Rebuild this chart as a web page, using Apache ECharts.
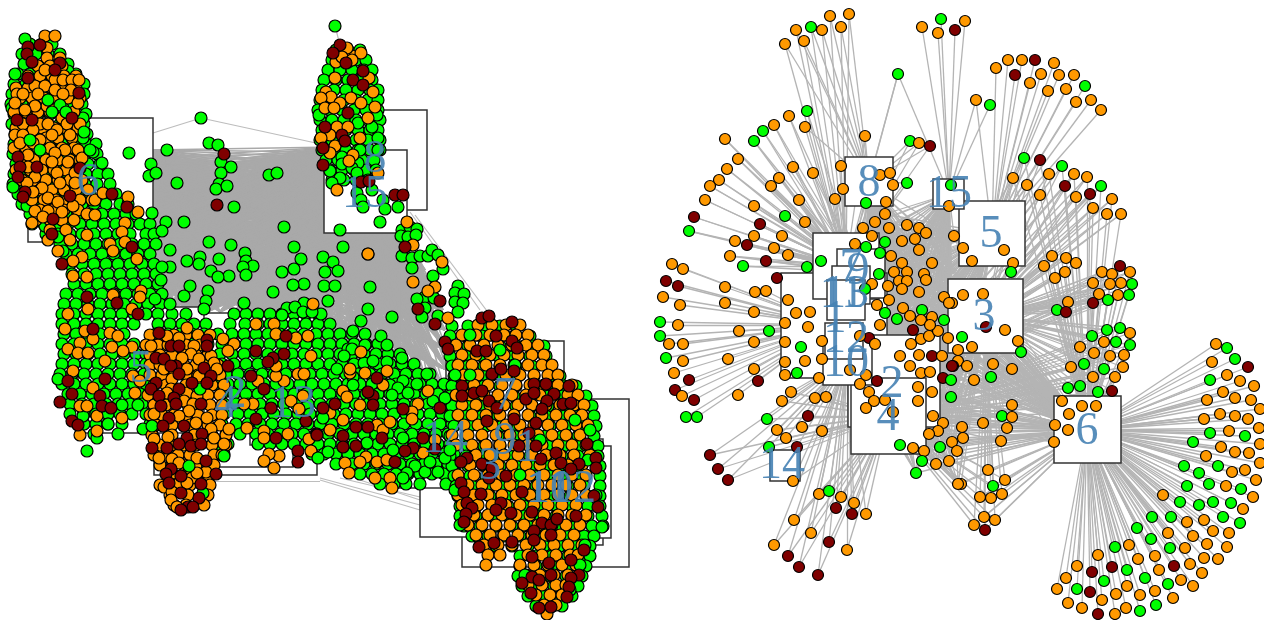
<!DOCTYPE html>
<html><head><meta charset="utf-8">
<script src="https://cdn.jsdelivr.net/npm/echarts@6/dist/echarts.min.js"></script>
<style>html,body{margin:0;padding:0;background:#fff}#c{width:1264px;height:620px}</style>
</head><body><div id="c"></div><script>
const O=0,G=1,M=2;
const leftBoxes=[[462,399,629,567],[154,313,317,475],[420,477,510,537],[159,338,293,467],[78,307,204,433],[28,118,153,242],[446,341,564,458],[327,110,427,210],[497,439,603,545],[519,446,611,538],[250,365,333,445],[397,392,493,488],[324,150,407,233]];
const leftLabels=[["6",88,183],["8",375,160],["15",365,195],["5",141,370],["4",226,405],["2",235,395],["13",293,405],["14",445,440],["7",505,397],["9",505,442],["1",527,449],["3",490,467],["11",548,490],["10",550,490],["12",573,490]];
const rightBoxes=[[781,273,887,378],[848,335,940,427],[948,279,1023,353],[851,378,926,454],[959,201,1025,266],[1054,396,1121,463],[813,233,879,299],[845,157,893,206],[837,249,885,298],[823,336,872,385],[832,266,870,304],[825,323,863,359],[827,280,865,320],[770,450,800,481],[933,179,964,209]];
const rightLabels=[["1",835,320],["2",892,385],["3",984,318],["4",888,418],["5",991,235],["6",1087,432],["7",851,268],["8",869,184],["9",858,272],["10",846,364],["11",842,295],["12",846,340],["13",846,295],["14",782,466],["15",949,195]];
const hub={h1:[833,325],h2:[894,381],h3:[986,316],h4:[888,416],h5:[992,234],h6:[1087,430],h7:[846,266],h8:[869,182],h9:[861,273],h10:[847,360],h15:[949,194]};

const fan8=[[785,44,O],[796,30,O],[804,41,O],[811,27,G],[822,30,O],[830,16,O],[841,27,O],[849,14,O],[865,136,O],[805,127,O],[898,74,G],[910,141,G],[919,143,O],[930,146,M],[841,166,O],[843,189,O],[835,199,O],[866,203,G],[886,202,O],[893,185,O],[880,175,O],[890,173,O],[907,183,G]];
const fan7=[[807,111,G],[789,116,O],[774,125,O],[763,131,G],[754,141,G],[725,139,O],[738,159,O],[727,169,O],[719,180,O],[710,186,O],[705,200,O],[694,217,M],[689,231,G],[793,167,O],[813,173,O],[779,178,O],[771,186,O],[799,200,O],[754,206,O],[785,216,G],[760,224,M],[805,222,O],[754,236,O],[735,241,O],[747,245,M],[782,236,O],[774,248,O],[788,255,O],[730,256,O],[766,261,M],[743,266,G],[807,267,G],[777,278,M],[821,261,G]];
const fan1=[[672,264,O],[683,269,O],[666,281,M],[678,286,M],[663,297,O],[680,305,O],[725,287,O],[725,303,O],[755,292,O],[766,291,O],[788,300,O],[660,322,G],[678,325,O],[660,336,G],[669,344,O],[683,344,O],[666,358,G],[683,361,O],[674,373,O],[689,380,M],[675,390,M],[682,396,O],[694,400,M],[686,417,G],[697,417,G],[739,331,O],[769,331,G],[754,342,O],[728,359,O],[754,369,O],[758,381,M],[738,395,O],[785,323,O],[785,342,O],[801,347,G],[785,362,O],[805,361,O],[785,375,O],[797,373,G],[808,327,O],[822,341,O],[822,359,O],[819,378,O],[796,313,O],[810,312,O],[754,312,O]];
const fan4=[[791,392,O],[782,401,O],[815,398,O],[826,397,O],[808,416,M],[802,427,O],[767,419,G],[777,430,O],[786,438,O],[822,431,O],[769,447,G],[797,447,M],[793,481,O],[710,455,M],[718,469,M],[728,480,M],[819,494,O],[829,491,G],[841,497,O],[854,503,O],[836,508,M],[852,514,M],[866,514,O],[794,520,O],[811,533,O],[829,542,M],[847,550,O],[774,545,O],[788,556,M],[799,567,M],[818,575,M]];
const fan15=[[922,27,O],[941,19,G],[938,33,O],[955,30,M],[965,21,O],[951,185,G],[949,206,O],[976,100,O],[990,105,G]];
const fan5=[[996,68,O],[1008,60,O],[1022,60,O],[1035,60,M],[1015,75,M],[1054,63,O],[1041,74,O],[1030,83,O],[1059,75,O],[1074,75,O],[1048,91,O],[1066,89,O],[1085,86,G],[1076,102,O],[1091,100,O],[1101,110,O],[963,248,O],[1004,250,O],[972,261,O],[1013,263,O],[1011,272,G]];
const fan3=[[1024,158,G],[1040,160,M],[1062,166,G],[1013,178,O],[1027,185,O],[1049,174,O],[1074,174,O],[1087,177,O],[1065,186,M],[1101,186,G],[1090,194,M],[1076,197,O],[1040,195,O],[1112,199,O],[1093,208,O],[1107,214,O],[1121,214,O],[1052,256,O],[1066,258,O],[1076,263,O],[1044,266,O],[1065,272,O],[1055,278,O],[1102,272,O],[1112,274,O],[1120,266,M],[1130,272,O],[1093,283,O],[1110,284,O],[1121,283,O],[1132,284,G],[1099,294,O],[1118,295,O],[1129,295,G],[1108,300,G],[1093,303,M],[1068,302,O],[1057,310,G],[1066,312,M],[963,295,O],[983,294,O],[952,303,O],[1005,330,O],[1018,341,O],[1021,352,G],[986,327,M],[962,337,G],[972,347,O],[958,350,O]];
const fan6up=[[1092,336,G],[1107,330,G],[1120,328,G],[1130,333,O],[1104,342,O],[1116,342,G],[1130,345,G],[1080,347,O],[1094,353,O],[1110,356,O],[1124,355,O],[1084,364,G],[1071,367,O],[1104,369,G],[1123,367,O],[1093,377,O],[1115,377,O],[1068,388,G],[1080,386,G],[1098,392,G],[1112,391,M],[958,361,O],[967,366,O],[953,366,M],[993,364,O],[1012,369,O],[991,377,G],[974,380,O],[1012,405,O],[1002,416,G],[1012,417,O],[983,423,O],[1007,428,O],[962,427,O],[1001,441,O],[963,438,O],[988,470,O],[961,484,O],[1005,480,O],[993,486,G],[1002,494,O],[980,497,O],[991,498,O],[984,517,O],[995,520,O],[974,525,O],[985,530,M],[1062,401,O],[1082,406,O],[1096,406,O],[1069,414,O],[1055,425,O],[1068,430,O],[1054,442,O]];
const fan6=[[1216,344,O],[1227,348,G],[1235,359,G],[1248,367,M],[1212,362,O],[1227,375,O],[1210,380,G],[1240,381,O],[1254,386,O],[1223,392,O],[1207,400,O],[1235,398,O],[1251,400,O],[1260,409,O],[1204,419,O],[1220,414,O],[1235,416,O],[1248,419,O],[1259,428,O],[1210,433,G],[1229,431,O],[1245,436,G],[1193,442,G],[1221,447,O],[1235,452,O],[1249,453,O],[1260,444,O],[1260,463,O],[1206,456,O],[1184,466,G],[1218,466,G],[1199,473,G],[1232,472,O],[1245,470,O],[1256,480,O],[1187,486,G],[1209,484,G],[1226,486,O],[1241,489,G],[1253,497,O],[1163,495,O],[1180,502,G],[1199,505,G],[1213,502,G],[1231,503,G],[1243,509,O],[1152,517,G],[1171,517,G],[1187,522,O],[1204,520,O],[1223,517,G],[1240,523,G],[1137,528,G],[1168,533,O],[1193,536,O],[1213,531,O],[1229,533,O],[1151,539,G],[1207,544,O],[1227,547,O],[1170,548,G],[1185,548,O],[1115,547,G],[1129,545,O],[1155,556,O],[1204,558,O],[1218,559,O],[1098,555,O],[1138,559,O],[1174,566,M],[1190,564,O],[1077,566,O],[1092,572,M],[1112,567,M],[1127,570,G],[1159,570,O],[1202,573,O],[1066,578,O],[1104,581,G],[1145,578,G],[1181,580,O],[1168,584,G],[1193,586,O],[1127,586,O],[1057,589,O],[1077,589,G],[1090,592,M],[1116,594,O],[1140,595,O],[1155,591,O],[1173,598,O],[1068,603,O],[1102,600,O],[1082,608,O],[1126,608,O],[1156,605,G],[1098,614,M],[1115,614,O],[1140,611,G]];
const middle=[[885,214,O],[875,222,O],[889,228,O],[863,228,O],[872,236,O],[855,244,O],[866,247,G],[885,242,G],[880,253,G],[891,256,O],[907,225,O],[919,228,O],[926,233,O],[915,239,O],[902,241,O],[919,250,O],[954,236,O],[902,263,O],[932,263,O],[894,272,O],[907,272,O],[924,274,O],[879,274,G],[926,280,O],[899,281,O],[907,281,O],[888,286,O],[872,284,O],[902,289,O],[919,292,O],[944,297,O],[949,303,O],[889,300,O],[877,305,O],[903,308,O],[922,310,G],[865,289,G],[885,313,G],[897,319,G],[913,330,M],[880,325,O],[869,338,M],[875,344,O],[860,336,O],[911,344,O],[921,339,O],[929,336,O],[938,331,O],[948,338,O],[944,320,G],[932,317,O],[921,320,O],[930,325,O],[910,316,O],[900,356,O],[919,355,O],[932,356,M],[942,356,O],[952,366,M],[910,366,O],[921,373,O],[930,372,O],[943,378,M],[951,380,G],[951,397,G],[877,381,M],[860,384,O],[869,392,O],[874,401,O],[885,400,O],[866,408,O],[893,412,O],[918,387,O],[932,392,O],[918,401,O],[933,416,O],[943,423,O],[938,431,O],[929,434,O],[900,445,G],[913,448,O],[924,451,O],[940,447,G],[952,442,O],[957,451,O],[949,461,O],[936,464,O],[922,461,G],[916,473,G],[958,484,O],[850,370,O],[866,375,O]];

const topLeftEnds=[[150,150],[146,158],[140,165],[130,172],[120,180],[110,186],[105,192],[100,198],[95,205],[100,212],[105,218],[110,225],[120,230],[130,235],[145,238]];
const topRightEnds=[[335,147],[333,152],[340,158],[330,165],[345,170],[330,175],[340,183],[335,190],[345,197],[335,205],[345,212],[335,220],[345,228],[360,230],[380,232],[400,226]];
const bottomEnds=[[100,292],[120,300],[140,305],[160,312],[175,313],[190,312],[205,313],[220,312],[235,312],[250,313],[265,312],[280,330],[295,335],[310,345],[325,355],[340,362],[355,372],[370,378],[385,385],[400,390],[415,392],[430,392],[445,392],[447,370],[447,350],[445,330],[443,310],[435,290],[425,270],[415,250]];
const leftExtraEdges=[[153,133,201,118],[201,118,325,145],[215,481,320,481],[320,480,420,510],[320,478,420,505],[360,480,420,500],[340,478,420,497],[410,212,480,310],[415,215,490,315],[335,26,340,45]];

const leftGreenRows=[
[44,30,42,52],[54,22,36,48,60],[64,24,34,46,58,68],[74,18,30,42,54,66,76],[84,14,26,38,50,62,74,84],[94,12,24,36,48,60,72,84],[104,11,22,34,46,58,70,82],[114,14,26,38,50,62,74,86],[124,12,24,36,48,60,72,84],[134,15,27,39,51,63,75,87],[144,14,26,38,50,62,74,86,96],[154,13,25,37,49,61,73,85,97],[164,16,28,40,52,64,76,88,100],[174,14,26,38,50,62,74,86,98,108],[184,13,25,37,49,61,73,85,97,110],[194,18,30,42,54,66,78,90,104,116],[204,22,34,46,58,70,82,94,106,120,128],[214,30,42,54,66,78,90,102,114,126,136],[224,32,44,56,68,80,92,104,116,128,140,150],[234,46,58,70,82,94,106,118,130,146,154],[244,60,72,84,96,108,120,132,144,156],[254,66,78,90,102,114,126,138,150],[264,70,82,94,106,118,130,142,154],[274,72,84,96,108,120,132,144,156],[284,74,86,98,110,122,134,146,158],[294,66,78,90,102,114,126,138,150,162],[304,64,76,88,100,112,124,136,148,160],
[314,62,74,86,98,110,122,134,146,158,172,186,234,246,258,270,282,294,306,318],
[324,62,74,86,98,110,122,134,158,170,182,194,206,230,245,258,270,282,294,306,318,330],
[334,64,76,88,100,112,124,156,168,180,192,204,218,232,244,256,268,280,292,304,316,328,340,352],
[344,62,74,86,98,110,122,134,150,170,190,208,222,234,246,258,270,282,294,306,318,330,342,354,366,378],
[354,64,76,88,100,112,124,136,146,208,220,232,244,256,268,280,292,304,316,328,340,352,364,376,388,400],
[364,62,74,86,98,110,122,134,146,210,222,234,246,258,270,282,294,306,318,330,342,354,366,378,390,402,414],
[374,60,72,84,96,108,120,132,144,214,226,238,250,262,274,286,298,310,322,334,346,358,370,382,394,406,418,430],
[384,62,74,86,98,110,122,134,146,216,228,240,252,264,276,288,300,312,324,336,348,360,372,384,396,408,420,432,444],
[394,68,80,92,104,116,128,140,222,234,246,258,270,282,294,306,318,330,342,354,366,378,390,402,414,426,438,450],
[404,70,82,94,106,118,130,142,224,236,248,260,272,284,296,308,320,332,344,356,368,380,392,404,416,428,440,452],
[414,70,84,96,108,120,132,146,224,238,250,262,274,286,298,310,322,334,346,358,370,382,394,406,418,430,442,454],
[424,84,96,108,122,150,222,236,248,260,272,284,296,308,320,332,344,356,368,380,392,404,416,428,440,452],
[434,94,118,152,226,240,256,268,280,292,304,316,328,340,352,364,376,388,400,412,424,436,448],
[444,218,228,258,270,282,294,306,318,330,342,354,366,378,390,402,414,426,438,450],
[454,224,312,324,336,348,360,372,384,396,408,420,432,444,454],
[464,336,352,364,376,388,400,412,424,436,448,456],
[474,360,372,384,396,408,420,432,444,456],[484,380,394,406,420,446,458],
[494,458],
[50,336,348,360],[60,332,344,356,366],[70,328,340,352,364,372],[80,324,336,348,360,372],[90,322,334,346,358,370,378],[100,320,332,344,356,368,378],[110,318,330,342,354,366,378],[120,320,332,344,356,368,380],[130,322,334,346,358,370,378],[140,320,332,344,356,368,380],[150,322,334,346,358,370,380],[160,326,338,350,362,374],[170,330,342,354,366,376],[180,332,344,356,368],
[326,452,468,484,500,516],[336,450,466,482,498,514,530],[346,452,468,484,500,516,532,544],[356,450,466,482,498,514,530,546],[366,452,468,484,500,516,532,550],[376,454,470,486,502,518,534,550,560],[386,452,468,484,500,516,532,548,564,576],[396,450,466,482,498,514,530,546,562,578,586],[406,452,468,484,500,516,532,548,564,580,592],[416,450,466,482,498,514,530,546,562,578,594],[426,454,470,486,502,518,534,550,566,582,596],[436,450,466,482,498,514,530,546,562,578,594],[446,452,468,484,500,516,532,548,564,580,598],[456,450,466,482,498,514,530,546,562,578,598],[466,452,468,484,500,516,532,548,564,580,600],[476,454,470,486,502,518,534,550,566,582,600],[486,456,472,488,504,520,536,552,568,584,600],[496,458,474,490,506,522,538,554,570,586,600],[506,460,476,492,508,524,540,556,572,588,600],[516,460,476,492,508,524,540,556,572,588,602],[526,464,480,496,512,528,544,560,576,592,603],[536,472,488,504,520,536,552,568,584,594],[546,480,496,512,528,544,560,576,590],[556,520,536,552,568,584,590],[566,520,536,552,568,586],[576,518,534,550,566,582],[586,522,538,554,570,578],[596,528,544,560,572],[606,536,552,562]
];
const leftGreen=[201,118,129,153,102,163,167,150,151,164,149,176,156,173,177,183,209,143,218,145,221,162,231,167,221,173,219,184,216,189,227,186,269,175,277,173,234,207,184,222,284,227,152,213,166,222,162,231,209,242,231,245,170,250,294,247,301,259,294,269,245,253,246,261,253,266,243,267,246,275,187,261,200,257,199,264,219,259,211,271,229,276,218,277,190,286,184,296,208,291,206,301,204,309,244,303,170,267,162,267,161,280,155,299,170,304,282,272,304,284,293,285,273,292,304,303,287,308,295,307,303,312,282,315,335,26,319,115,377,115,358,123,372,127,378,138,360,150,378,150,342,157,342,164,330,171,358,163,352,168,357,173,340,178,332,183,372,190,357,193,361,200,363,207,383,200,385,209,398,207,380,222,340,230,402,230,410,227,417,229,401,236,408,237,416,235,402,256,412,258,420,256,428,256,432,250,438,255,412,268,443,269,433,276,458,286,455,293,464,294,425,297,417,299,434,298,455,302,463,303,425,308,458,312,438,316,422,317,343,247,323,257,333,262,338,271,325,272,324,286,335,286,370,287,328,301,368,309,392,317,321,314,312,312,361,321,353,331,365,334,381,336,387,345,348,349,352,349,344,356,365,345,402,358,364,363,373,361,387,362,337,369,427,374,353,377,403,381,390,385,417,384,353,385,398,388,392,395,408,393,433,401,445,398,87,451,97,438,108,424,83,416,122,405,138,405,143,429,58,379,27,206,13,187,45,226,58,237,63,251,83,118,83,138,93,152,12,108,63,108,25,39,68,71,15,74];
const leftGreenTop=[189,466,224,456,152,426,200,389,203,493,403,438,323,418,328,452,318,458,393,450,367,443,415,466,425,472,438,472,407,473,403,478,430,462,445,458,588,460,590,430,596,495,602,527,585,545,580,565,570,590,525,575,460,525,455,490,520,475,540,440,575,420,450,450,470,335,500,350,515,365,470,375,455,375,60,105,66,112,52,112,48,100,90,150,40,150,30,140,84,132];
const leftOrangeRows=[
[36,45,55],[48,47],[58,47,60],[66,38,50,62],[76,28,40,52,64,76],[88,16,28,40,52,64,76],[98,20,32,44,56,68,80],[112,14,26,38,50,62,74],[128,16,28,42,54,66,78],[138,18,30,46,58,72],[148,14,26,38,50,62,74],[160,22,34,46,58,70,80],[170,16,30,42,54,66,78],[180,22,34,46,58,70,82],[190,28,40,52,64,76,88],[200,32,44,56,68,80,92],[210,40,52,64,78],[220,36,50,62,74],[230,50,66],
[70,45],[80,55,63,72,79],[86,35,45],[90,55,71],[94,17,23,38,63],[103,15,78],[106,47,35],[110,25,53],[118,62],[124,23,40,48,67,80],[130,33,57],[135,15,23,52,70],[140,40],[143,20,33],[150,65,78],[153,55],[155,28],[158,82],[162,52,68],[167,28],[173,57,75],[177,35],[183,27,60,75],[188,42],[192,33],[198,48],[202,58],[206,73],[211,35,48],[212,62],[217,43],[214,87],[215,95],[200,95],[193,103],[197,128],[212,138],[223,32,125],[232,122],[235,87],[240,70,48],[242,125],[244,110],[251,58,113],[257,82],[259,137],[261,73],[276,73],[277,87],[295,113],[291,141],[297,140],[309,88,132],[314,68],
[329,65],[331,85],[333,110],[336,118],[339,93],[343,80],[349,68],[353,78,88],[347,112,132],[351,123],[361,105],[371,73],[376,133],[381,140],[388,93],[406,80,87],[416,97],[418,122],[431,97],[435,80],[393,135],
[335,150,162,174,186,198,210],[345,146,158,168,186,200],[355,150,160,172,184,196,208],[365,150,160,184,196,208,218],[375,150,162,174,186,198,220],[385,154,166,186,198,212,224],[395,148,166,184,196,208,220],[405,154,166,188,196,210,222],[415,150,162,174,186,198,212,222],[425,156,172,190,208,220],[435,152,172,194,212,226],[445,160,172,184,196,212,226],[455,154,166,178,190,214,222],[465,160,172,184,196,214],[475,174,186,196,208],[485,160,174,190,210],[495,170,188,208],[505,174,186,204],
[336,167],[338,179],[328,187],[346,194,151],[354,191],[358,182],[359,199],[356,211],[363,214],[369,187,217,164],[376,199],[379,172],[389,171],[393,187,167],[396,197],[401,184],[404,193],[411,189],[414,154],[416,179],[418,207],[423,196],[429,211,229],[439,154],[438,214],[444,224],[458,159,197],[459,172],[463,179],[478,192],[483,179,187],[487,164],[492,172],[500,171],[507,177],[437,168],[472,206],[473,197],
[324,256,274],[334,276],[338,296],[336,308],[344,234],[339,223],[351,228],[381,258,284],[376,276],[366,276],[356,311],[374,298,304],[396,303],[401,291],[409,299],[404,253,244],[428,247],[431,264],[438,264],[434,288],[439,309],[451,311],[456,279],[454,269],[461,264],[468,274],
[304,313],[373,350],[352,361],[369,350],[373,365],[385,383],[371,387],[391,343],[391,428],[397,347],[405,360],[420,343],[430,330],[404,418],[412,412],[419,412],[413,330],[425,377],[430,383],[422,390],[440,435],[453,423],[457,366],[462,360],[463,345],[462,377],[460,387],[473,349],[478,375],[478,390],[488,392],
[254,368],[262,442],[282,413],[287,435],[291,428],[318,448],
[325,478,492,506,520],[335,462,476,490,504,516,528],[345,456,470,484,498,512,526,538],[355,462,476,490,504,518,532,544],[365,458,472,486,500,514,528,542,552],[375,464,478,492,506,520,534,548,558],[385,474,488,502,516,530,544,558,572],[395,456,470,484,498,512,526,540,554,568,578],[405,462,476,490,504,518,532,546,560,574,584],[415,458,472,486,500,514,528,542,556,570,582],[425,464,478,492,506,520,534,548,562,576,588],[435,452,468,482,496,510,524,538,552,566,580],[445,456,472,486,500,514,528,542,558,572,586],[455,476,490,504,518,532,546,560,574,590],[465,470,484,498,512,526,540,554,568,582],[475,458,474,488,502,516,530,544,558,572,586],[485,468,482,496,510,524,538,552,566,580],[495,458,474,488,502,516,530,544,558,572,586],[505,462,478,492,506,520,534,548,562,576],[515,474,488,502,516,530,544,558,572,586],[525,468,482,496,510,524,538,552,566,580],[535,476,490,504,518,532,546,560,574],[545,484,498,512,526,540,554,568,582],[555,488,500,528,542,556,570,578],[565,486,520,534,548,562,576],[575,526,540,554,568],[585,528,542,556,566],[595,536,550,562],[605,544,556],[614,547],
[56,340,352],[62,336,348],[78,335,369],[92,373,326],[97,331],[98,321,351],[103,361,340],[107,375],[108,325,334],[118,368],[127,337,348],[135,330],[138,321,360],[146,335],[153,330],[155,353],[161,349],[173,378],[190,337],[222,407],[245,413],[254,368],[53,361],[48,347],[57,342],[60,352]
];
const leftMaroon=[28,47,40,45,27,54,32,62,60,63,55,70,28,78,79,93,17,120,32,120,72,118,18,157,20,167,37,167,80,168,18,177,25,192,70,196,23,197,53,219,52,234,62,264,112,194,127,207,132,247,87,297,117,303,138,314,93,329,68,381,105,379,72,394,100,396,60,402,102,406,111,408,72,421,78,425,
159,333,171,346,179,346,207,340,207,346,156,358,164,359,176,366,171,366,204,368,228,366,179,374,211,376,156,383,192,383,207,383,151,389,179,389,159,396,174,398,161,406,176,404,201,404,169,418,163,426,184,426,202,434,187,438,152,448,167,448,179,444,191,446,201,444,206,461,171,469,181,476,166,474,216,474,169,483,201,484,181,493,199,498,188,507,181,510,193,507,
256,351,284,354,273,358,268,362,286,336,251,376,264,389,271,408,256,419,276,438,298,451,298,462,306,421,317,434,224,154,217,205,340,45,333,53,346,63,363,71,353,80,363,85,348,113,325,127,342,135,345,141,323,148,323,165,361,182,369,181,395,195,403,195,405,247,440,301,418,309,482,318,
377,378,373,396,368,392,373,405,403,409,440,408,335,404,323,408,356,427,368,427,423,438,343,436,317,435,382,438,413,448,405,451,435,449,343,447,356,446,395,462,
489,316,512,322,445,342,448,349,496,336,512,341,517,348,477,351,486,351,435,324,492,374,501,369,514,371,534,384,546,384,569,386,462,386,462,396,474,393,482,391,489,401,497,408,526,399,534,393,554,394,547,401,563,404,571,403,542,409,514,419,536,423,487,421,529,433,587,444,596,458,596,468,519,446,536,446,556,453,561,463,467,458,461,462,482,464,492,468,489,478,506,476,541,459,579,464,571,469,461,483,464,492,481,494,522,492,594,496,598,507,501,503,467,503,472,508,466,514,496,510,511,513,464,522,532,512,576,516,542,523,551,525,557,519,534,531,534,540,551,535,512,542,494,543,479,547,584,550,532,557,571,560,549,563,579,575,571,578,532,577,539,580,551,575,522,583,531,593,569,587,567,597,539,608,551,607];

const pairs=a=>{const r=[];for(let i=0;i<a.length;i+=2)r.push([a[i],a[i+1]]);return r;};
const rows=a=>a.flatMap(r=>r.slice(1).map(x=>[x,r[0]]));
const leftEdges=[],rightEdges=[];
const linkTo=(list,p,h)=>list.push({coords:[[p[0],p[1]],h]});
const link=(p,h)=>linkTo(rightEdges,p,h);
for(const a of topLeftEnds){for(const b of topRightEnds)linkTo(leftEdges,a,b);for(const b of bottomEnds)linkTo(leftEdges,a,b);}
for(const a of topRightEnds)for(const b of bottomEnds)linkTo(leftEdges,a,b);
const leftThin=leftExtraEdges.map(e=>({coords:[[e[0],e[1]],[e[2],e[3]]]}));
fan8.forEach(p=>{link(p,hub.h8);link(p,hub.h7)});
link([898,74],hub.h15);
fan7.forEach(p=>{link(p,hub.h7);link(p,hub.h9)});
fan1.forEach(p=>link(p,hub.h1));
fan4.forEach(p=>{link(p,hub.h4);link(p,hub.h10)});
fan15.forEach(p=>link(p,hub.h15));
link([976,100],hub.h5);
fan5.forEach(p=>link(p,hub.h5));
fan3.forEach(p=>{link(p,hub.h3);link(p,hub.h2);link(p,hub.h6)});
fan6up.forEach(p=>{link(p,hub.h6);link(p,hub.h4);link(p,hub.h3)});
fan6.forEach(p=>link(p,hub.h6));
const hubList=Object.values(hub);
middle.forEach(p=>hubList.forEach(h=>link(p,h)));

const colours=['#FF9900','#00FF00','#7F0000'];
const rightNodes=[...fan8,...fan7,...fan1,...fan4,...fan15,...fan5,...fan3,...fan6up,...fan6,...middle];
const dot=(name,data,color,z)=>({type:'scatter',name,data,symbol:'circle',symbolSize:12,z,silent:true,
  itemStyle:{color,borderColor:'#000',borderWidth:1.2,opacity:1},animation:false});
const boxes=(data,z)=>({type:'custom',data,z,silent:true,animation:false,encode:{x:0,y:1},
  renderItem:(p,api)=>{const a=api.coord([api.value(0),api.value(1)]),b=api.coord([api.value(2),api.value(3)]);
   return {type:'rect',shape:{x:a[0],y:a[1],width:b[0]-a[0],height:b[1]-a[1]},style:{fill:'#fff',stroke:'#333',lineWidth:1.5}};}});
const labels=data=>({type:'scatter',data:data.map(d=>[d[1],d[2],d[0]]),symbolSize:1,z:20,silent:true,animation:false,
  itemStyle:{opacity:0},label:{show:true,position:'inside',formatter:p=>p.value[2],fontFamily:'Liberation Serif',fontSize:46,color:'#4682B4',opacity:.9}});
const lines=(data,color,width)=>({type:'lines',coordinateSystem:'cartesian2d',data,z:1,silent:true,animation:false,lineStyle:{color,width,opacity:1}});
const chart=echarts.init(document.getElementById('c'),null,{renderer:'canvas'});
chart.setOption({animation:false,backgroundColor:'#fff',
 grid:{left:0,right:0,top:0,bottom:0},
 xAxis:{type:'value',min:0,max:1264,show:false},
 yAxis:{type:'value',min:0,max:620,inverse:true,show:false},
 series:[
  lines(leftEdges,'#A9A9A9',1.6),lines(leftThin,'#BDBDBD',1.2),lines(rightEdges,'#B4B4B4',1.3),
  boxes(leftBoxes,2),boxes(rightBoxes,2),
  dot('leftGreen',[...rows(leftGreenRows),...pairs(leftGreen)],colours[G],5),
  dot('leftOrange',rows(leftOrangeRows),colours[O],6),
  dot('leftGreenTop',pairs(leftGreenTop),colours[G],7),
  dot('leftMaroon',pairs(leftMaroon),colours[M],8),
  {type:'scatter',name:'rightNodes',data:rightNodes,symbol:'circle',symbolSize:11,z:9,silent:true,animation:false,
   itemStyle:{color:p=>colours[p.value[2]],borderColor:'#000',borderWidth:1.2,opacity:1}},
  labels(leftLabels),labels(rightLabels)
 ]});
</script></body></html>
